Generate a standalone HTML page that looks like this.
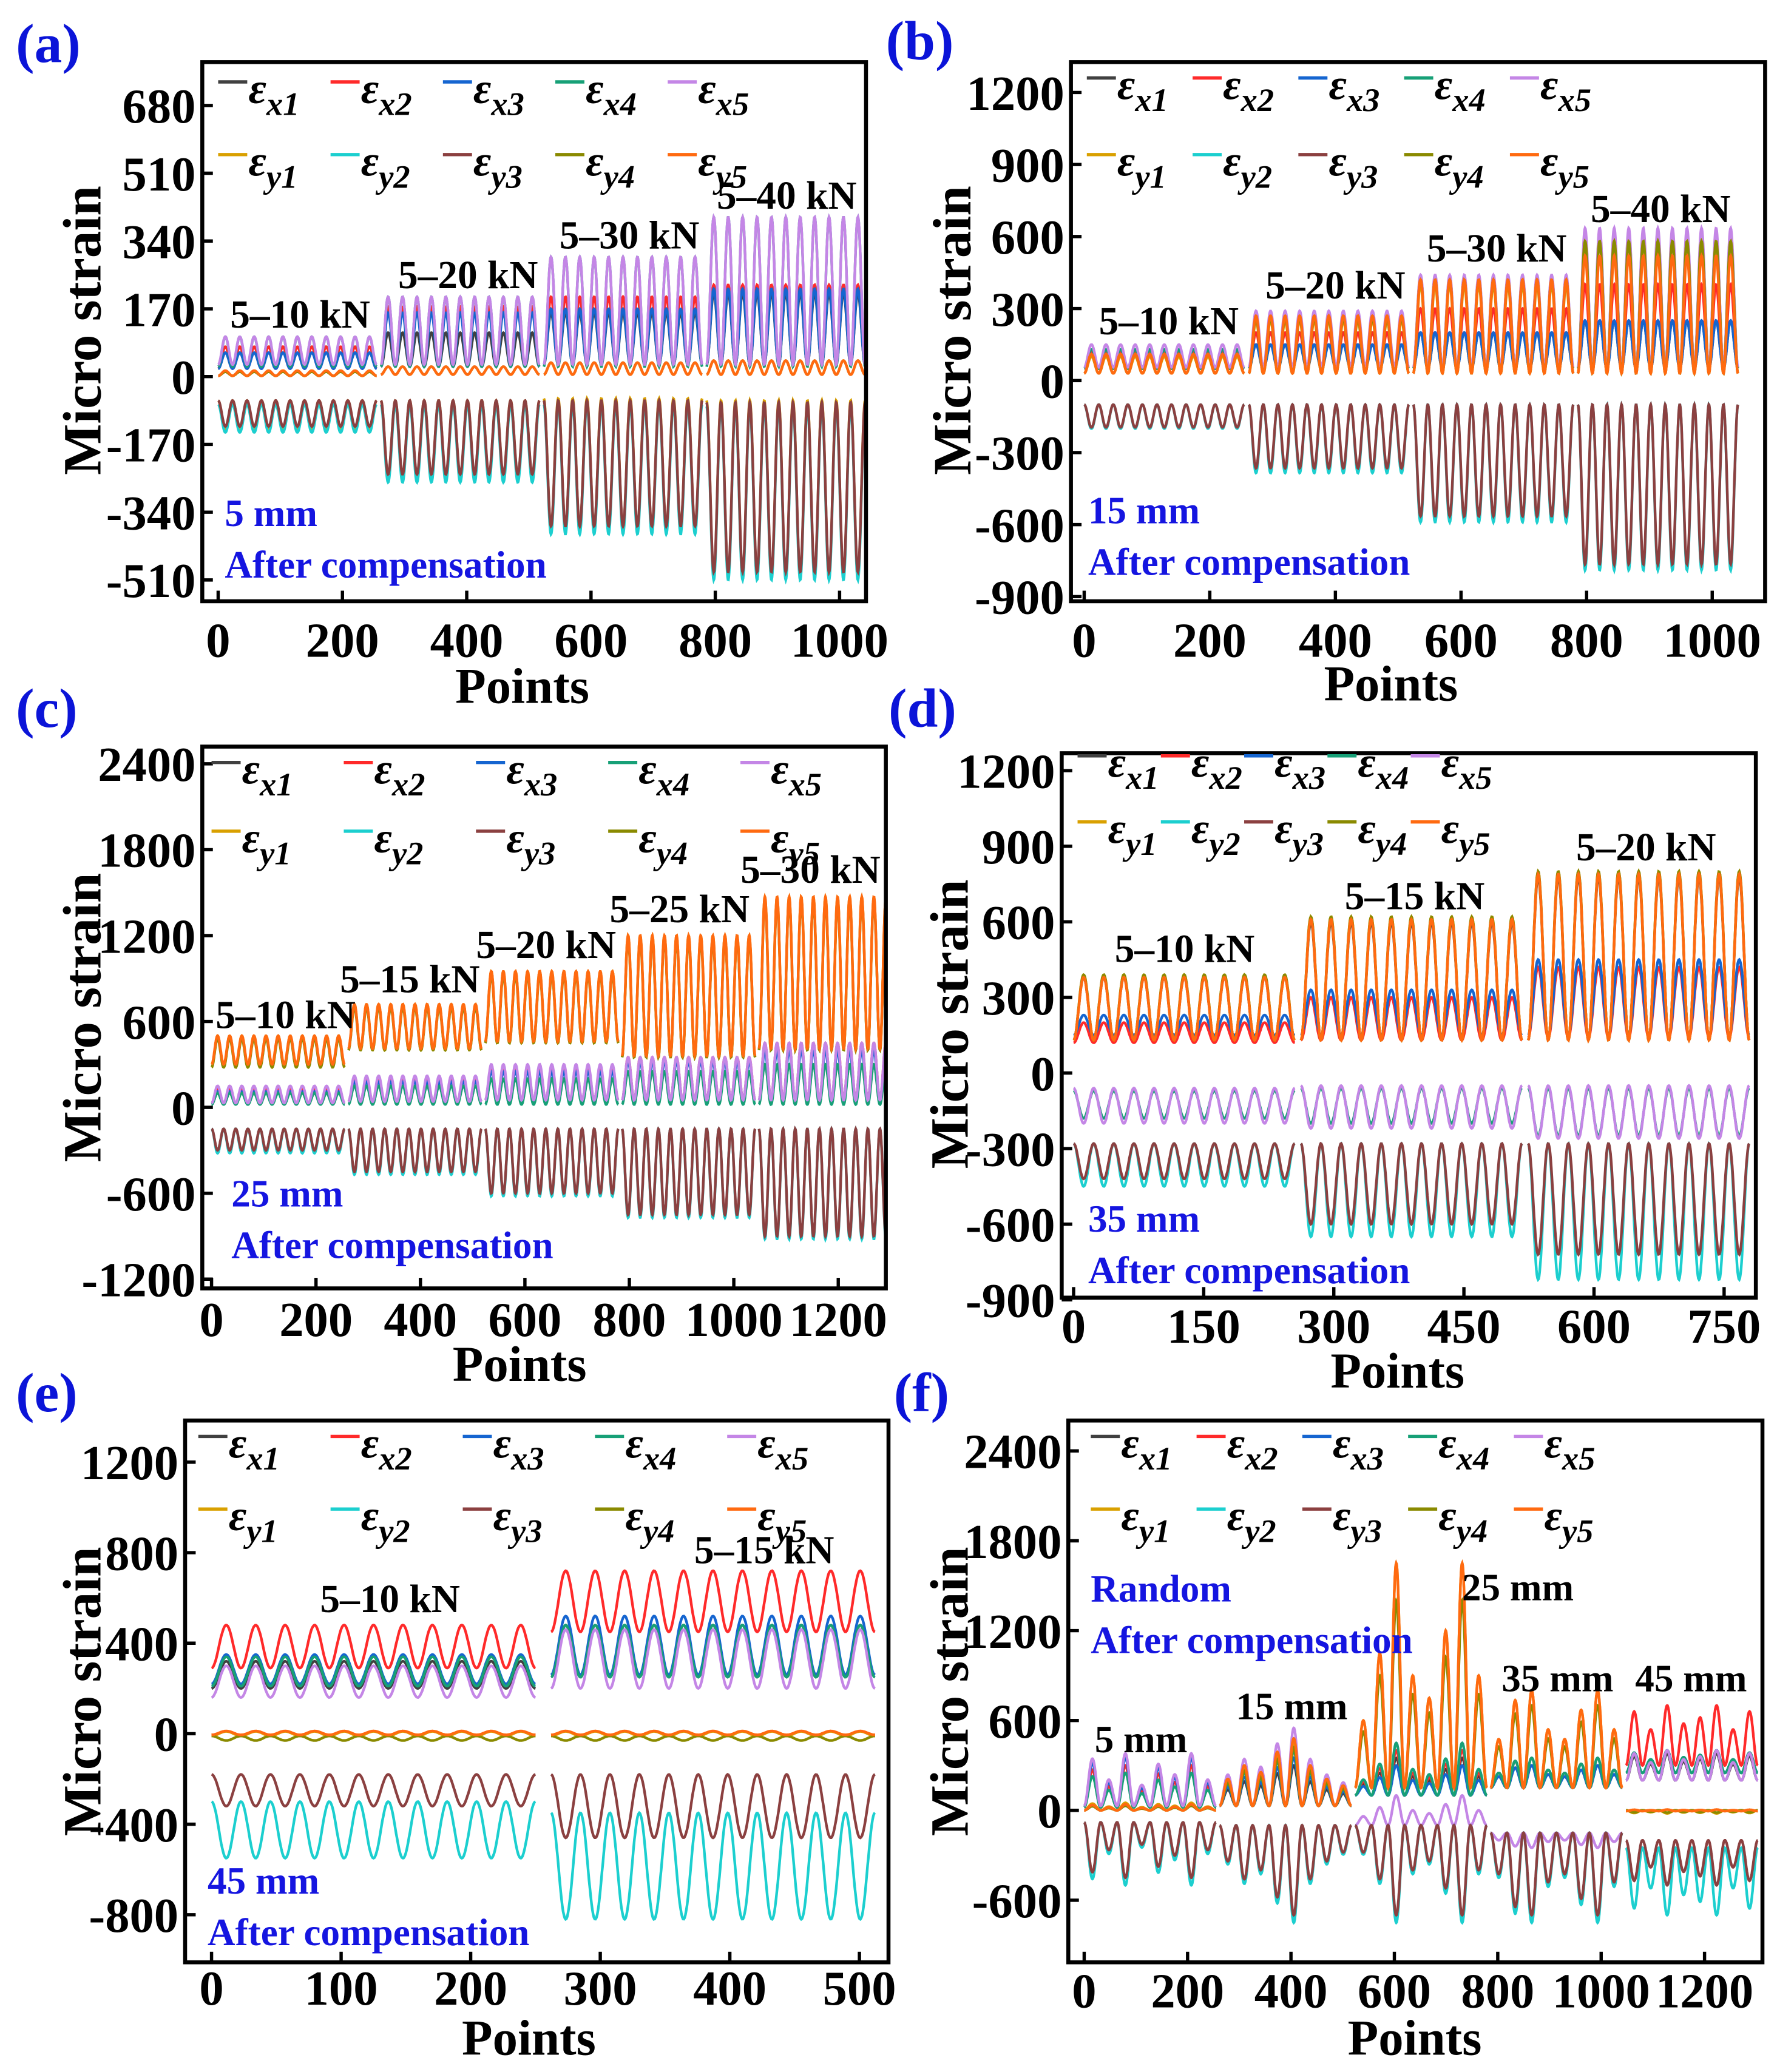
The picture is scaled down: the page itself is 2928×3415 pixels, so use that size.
<!DOCTYPE html>
<html><head><meta charset="utf-8"><style>
html,body{margin:0;padding:0;background:#fff}
svg{display:block}
text{font-family:"Liberation Serif",serif;font-weight:bold}
</style></head><body>
<svg id="fig" xmlns="http://www.w3.org/2000/svg" width="2928" height="3415" viewBox="0 0 1344 1568" preserveAspectRatio="none"></svg>
<script>
// ---- series definitions ----
const seriesKeys = ['x1','x2','x3','x4','x5','y1','y2','y3','y4','y5'];
const seriesColors = ['#404040','#ff2a2a','#1565d0','#17a077','#c486e6','#d9a000','#1ccfcf','#8b4040','#8a8a00','#ff6a10'];

// ---- panel (a): [base, peak] per segment ----
const aSegs = [[0,255],[262,517],[524,779],[786,1041]];
const aYTicks = [680,510,340,170,0,-170,-340,-510];
const aXTicks = [0,200,400,600,800,1000];
const aData = {
 x1:[[20,60],[25,110],[30,160],[30,210]], x2:[[20,75],[25,175],[30,200],[30,230]],
 x3:[[20,60],[25,160],[30,170],[30,220]], x4:[[25,100],[25,200],[25,300],[25,400]],
 x5:[[30,100],[30,200],[30,300],[30,400]], y1:[[-60,-130],[-60,-250],[-55,-380],[-60,-500]],
 y2:[[-70,-140],[-70,-265],[-70,-395],[-75,-510]], y3:[[-60,-125],[-60,-245],[-60,-375],[-65,-490]],
 y4:[[2,12],[5,25],[5,35],[5,40]], y5:[[2,15],[5,25],[5,35],[5,40]]};
const aLoads = ['5–10 kN','5–20 kN','5–30 kN','5–40 kN'];

// ---- panel (b) ----
const bSegs = [[0,255],[262,517],[524,779],[786,1041]];
const bYTicks = [1200,900,600,300,0,-300,-600,-900];
const bXTicks = [0,200,400,600,800,1000];
const bData = {
 x1:[[50,100],[50,150],[50,200],[50,250]], x2:[[50,120],[50,200],[50,300],[50,400]],
 x3:[[50,100],[50,150],[50,200],[50,250]], x4:[[50,130],[50,280],[50,430],[50,620]],
 x5:[[55,150],[55,290],[55,440],[55,635]], y1:[[30,100],[30,250],[30,400],[30,580]],
 y2:[[-100,-200],[-100,-385],[-100,-590],[-100,-790]], y3:[[-100,-195],[-100,-365],[-100,-565],[-100,-765]],
 y4:[[30,110],[30,260],[30,420],[30,580]], y5:[[30,110],[30,270],[30,420],[30,520]]};
const bLoads = ['5–10 kN','5–20 kN','5–30 kN','5–40 kN'];

// ---- panel (c) ----
const cSegs = [[0,255],[262,517],[524,779],[786,1041],[1048,1303]];
const cYTicks = [2400,1800,1200,600,0,-600,-1200];
const cXTicks = [0,200,400,600,800,1000,1200];
const cData = {
 x1:[[30,120],[40,150],[50,200],[50,250],[50,300]], x2:[[30,130],[40,200],[50,280],[50,350],[50,450]],
 x3:[[30,110],[40,180],[50,250],[50,320],[50,400]], x4:[[20,100],[20,150],[20,200],[20,250],[20,300]],
 x5:[[30,150],[40,220],[50,300],[50,350],[50,450]], y1:[[280,500],[400,720],[450,950],[350,1200],[400,1470]],
 y2:[[-150,-320],[-150,-470],[-150,-620],[-150,-770],[-150,-920]], y3:[[-150,-300],[-150,-450],[-150,-600],[-150,-750],[-150,-900]],
 y4:[[280,480],[400,700],[450,930],[350,1180],[400,1450]], y5:[[300,500],[410,720],[460,950],[360,1200],[410,1470]]};
const cLoads = ['5–10 kN','5–15 kN','5–20 kN','5–25 kN','5–30 kN'];

// ---- panel (d) ----
const dSegs = [[0,255],[262,517],[524,779]];
const dYTicks = [1200,900,600,300,0,-300,-600,-900];
const dXTicks = [0,150,300,450,600,750];
const dData = {
 x1:[[130,380],[130,600],[130,780]], x2:[[120,200],[130,300],[140,420]],
 x3:[[150,230],[150,330],[150,450]], x4:[[-70,-180],[-60,-200],[-60,-250]],
 x5:[[-60,-200],[-50,-220],[-50,-260]], y1:[[130,390],[130,620],[130,800]],
 y2:[[-280,-450],[-280,-650],[-280,-820]], y3:[[-280,-420],[-280,-600],[-280,-720]],
 y4:[[130,390],[130,620],[130,800]], y5:[[130,380],[130,610],[130,790]]};
const dLoads = ['5–10 kN','5–15 kN','5–20 kN'];

// ---- panel (e) ----
const eSegs = [[0,250],[262,512]];
const eYTicks = [1200,800,400,0,-400,-800];
const eXTicks = [0,100,200,300,400,500];
const eData = {
 x1:[[200,320],[250,480]], x2:[[290,480],[450,720]], x3:[[220,350],[260,520]],
 x4:[[210,340],[250,480]], x5:[[160,300],[200,460]], y1:[[-10,10],[-10,10]],
 y2:[[-300,-550],[-350,-820]], y3:[[-180,-320],[-180,-460]], y4:[[-10,-30],[-10,-30]], y5:[[-5,12],[-5,12]]};
const eLoads = ['5–10 kN','5–15 kN'];

// ---- panel (f) random: per-cycle relative peak factors ----
const fSegs = [[0,255],[262,517],[524,779],[786,1041],[1048,1303]];
const fYTicks = [2400,1800,1200,600,0,-600];
const fXTicks = [0,200,400,600,800,1000,1200];
const fMods = [[0.9,0.5,1.0,0.4,0.8,0.6,1.0,0.5],[0.4,0.6,0.5,0.8,1.0,0.6,0.4,0.3],
 [0.3,0.6,1.0,0.5,0.4,0.7,1.0,0.5],[0.5,0.9,1.0,0.6,0.5,0.8,1.0,0.6],[0.9,0.6,1.0,0.7,0.8,1.0,0.6,0.9]];
const fData = {
 x1:[[20,300],[30,300],[100,350],[150,300],[200,380]], x2:[[20,300],[30,400],[100,400],[150,350],[300,700]],
 x3:[[20,350],[30,350],[100,300],[150,300],[250,400]], x4:[[20,250],[30,400],[100,450],[150,350],[250,400]],
 x5:[[30,380],[30,550],[-100,100],[-150,-250],[200,400]], y1:[[0,50],[30,450],[150,1650],[150,800],[0,-20]],
 y2:[[-80,-500],[-100,-750],[-100,-750],[-150,-750],[-250,-700]], y3:[[-80,-450],[-100,-700],[-100,-700],[-150,-700],[-200,-500]],
 y4:[[0,30],[30,420],[150,1400],[150,700],[0,-15]], y5:[[0,40],[30,480],[150,1650],[150,800],[-5,5]]};

const panels = [
 {id:'a',box:[153,47,655,455],y0:285,yPer:-51.3/170,x0:165,xPer:94/200,yT:aYTicks,xT:aXTicks,segs:aSegs,data:aData,cyc:11,xo:42,
  letter:[12,47],ytl:[62,250],xtl:[395,532],leg:[165,78,133,85],info:[170,388,427,'5 mm'],
  loads:aLoads,loadPos:[[227,248],[354,218],[476,188],[595,158]]},
 {id:'b',box:[810,47,1335,455],y0:288,yPer:-54.5/300,x0:820,xPer:95/200,yT:bYTicks,xT:bXTicks,segs:bSegs,data:bData,cyc:11,xo:42,
  letter:[670,45],ytl:[720,250],xtl:[1052,530],leg:[822,75,133,80],info:[823,386,425,'15 mm'],
  loads:bLoads,loadPos:[[884,253],[1010,226],[1132,198],[1256,168]]},
 {id:'c',box:[153,565,670,975],y0:838,yPer:-65/600,x0:160,xPer:79/200,yT:cYTicks,xT:cXTicks,segs:cSegs,data:cData,cyc:11,xo:36,
  letter:[12,550],ytl:[62,770],xtl:[393,1045],leg:[160,593,645,100],info:[175,903,942,'25 mm'],
  loads:cLoads,loadPos:[[216,778],[310,751],[413,725],[514,698],[613,668]]},
 {id:'d',box:[803,570,1328,982],y0:812,yPer:-57.2/300,x0:812,xPer:98.4/150,yT:dYTicks,xT:dXTicks,segs:dSegs,data:dData,cyc:11,xo:34,
  letter:[672,550],ytl:[718,775],xtl:[1057,1050],leg:[815,588,638,63],info:[823,922,961,'35 mm'],
  loads:dLoads,loadPos:[[896,728],[1070,688],[1245,651]]},
 {id:'e',box:[140,1075,672,1485],y0:1312,yPer:-68.5/400,x0:160,xPer:98/100,yT:eYTicks,xT:eXTicks,segs:eSegs,data:eData,cyc:11,xo:32,
  letter:[12,1068],ytl:[62,1280],xtl:[400,1555],leg:[150,1103,1158,100],info:[157,1423,1462,'45 mm'],
  loads:eLoads,loadPos:[[295,1220],[578,1183]]},
 {id:'f',box:[808,1075,1333,1485],y0:1370,yPer:-68/600,x0:820,xPer:78.2/200,yT:fYTicks,xT:fXTicks,segs:fSegs,data:fData,mods:fMods,xo:34,
  letter:[676,1068],ytl:[718,1280],xtl:[1070,1555],leg:[825,1103,1158,80],info:null,loads:[],loadPos:[]}
];

const NS='http://www.w3.org/2000/svg';
const svg=document.getElementById('fig');
function mk(tag,attrs,parent,txt){const e=document.createElementNS(NS,tag);for(const k in attrs)e.setAttribute(k,attrs[k]);if(txt!==undefined)e.textContent=txt;(parent||svg).appendChild(e);return e;}

panels.forEach(p=>{
 const g=mk('g',{});
 
 
 const X=v=>p.x0+v*p.xPer, Y=v=>p.y0+v*p.yPer;
 const [bx0,by0,bx1,by1]=p.box;
 const clipId='clip'+p.id;
 const cp=mk('clipPath',{id:clipId},g);mk('rect',{x:bx0,y:by0,width:bx1-bx0,height:by1-by0},cp);
 const sg=mk('g',{'clip-path':'url(#'+clipId+')'},g);
 
 
 seriesKeys.forEach((k,si)=>{
  p.data[k].forEach((bp,gi)=>{
   const [s,e]=p.segs[gi];const base=bp[0],peak=bp[1];
   const mods=p.mods?p.mods[gi]:null;const cyc=mods?mods.length:p.cyc;
   const N=400;let pts=[];
   for(let i=0;i<=N;i++){const t=i/N;const ph=t*cyc;const ci=Math.min(cyc-1,Math.floor(ph));
    const m=mods?mods[ci]:1;const w=(1-Math.cos(2*Math.PI*ph))/2;
    const v=base+(peak-base)*m*w;pts.push(X(s+(e-s)*t).toFixed(1)+','+Y(v).toFixed(1));}
   const pl=mk('polyline',{points:pts.join(' '),fill:'none',stroke:seriesColors[si],'stroke-width':2},sg);
   
   
  });
 });
 const fr=mk('rect',{x:bx0,y:by0,width:bx1-bx0,height:by1-by0,fill:'none',stroke:'#000','stroke-width':3},g);
 
 
 p.yT.forEach(v=>{const y=Y(v);
  mk('line',{x1:bx0,x2:bx0+8,y1:y,y2:y,stroke:'#000','stroke-width':2.5},g);
  const t=mk('text',{x:bx0-5,y:y+13,'text-anchor':'end','font-size':37},g,String(v));
  
  });
 p.xT.forEach(v=>{const x=X(v);
  mk('line',{x1:x,x2:x,y1:by1,y2:by1-8,stroke:'#000','stroke-width':2.5},g);
  const t=mk('text',{x:x,y:by1+p.xo,'text-anchor':'middle','font-size':37},g,String(v));
  
  });
 const yt=mk('text',{x:0,y:0,'text-anchor':'middle','font-size':41,transform:'translate('+(p.ytl[0]+14)+','+p.ytl[1]+') rotate(-90)'},g,'Micro strain');
 
 
 const xt=mk('text',{x:p.xtl[0],y:p.xtl[1],'text-anchor':'middle','font-size':38},g,'Points');
 
 
 const lt=mk('text',{x:p.letter[0],y:p.letter[1],'font-size':42,fill:'#0b14d8'},g,'('+p.id+')');
 
 
 const [lx,ly1,ly2,sp]=p.leg;
 seriesKeys.forEach((k,si)=>{const row=si<5?0:1;const x=lx+(si%5)*sp;const y=row?ly2:ly1;
  const lg=mk('g',{},g);
  
  
  mk('line',{x1:x,x2:x+22,y1:y-16,y2:y-16,stroke:seriesColors[si],'stroke-width':2.5},lg);
  const t=mk('text',{x:x+23,y:y,'font-size':33,'font-style':'italic','font-weight':'normal'},lg);
  mk('tspan',{},t,'ε');mk('tspan',{dy:9,'font-size':25},t,k);});
 p.loads.forEach((s,i)=>{const t=mk('text',{x:p.loadPos[i][0],y:p.loadPos[i][1],'text-anchor':'middle','font-size':30},g,s);
  
  });
 if(p.info){const t1=mk('text',{x:p.info[0],y:p.info[1]+10,'font-size':29,fill:'#1515e0'},g,p.info[3]);
  
  
  const t2=mk('text',{x:p.info[0],y:p.info[2]+10,'font-size':29,fill:'#1515e0'},g,'After compensation');
  
  }
});
const fLabels=[['Random',825,1212,'#1515e0','start'],['After compensation',825,1251,'#1515e0','start'],['5 mm',863,1326,'#000','middle'],['15 mm',977,1301,'#000','middle'],['25 mm',1148,1211,'#000','middle'],['35 mm',1178,1280,'#000','middle'],['45 mm',1279,1280,'#000','middle']];
fLabels.forEach(l=>{const t=mk('text',{x:l[1],y:l[2],'font-size':29,fill:l[3],'text-anchor':l[4]},svg,l[0]);
 
 });
</script>
</body></html>
